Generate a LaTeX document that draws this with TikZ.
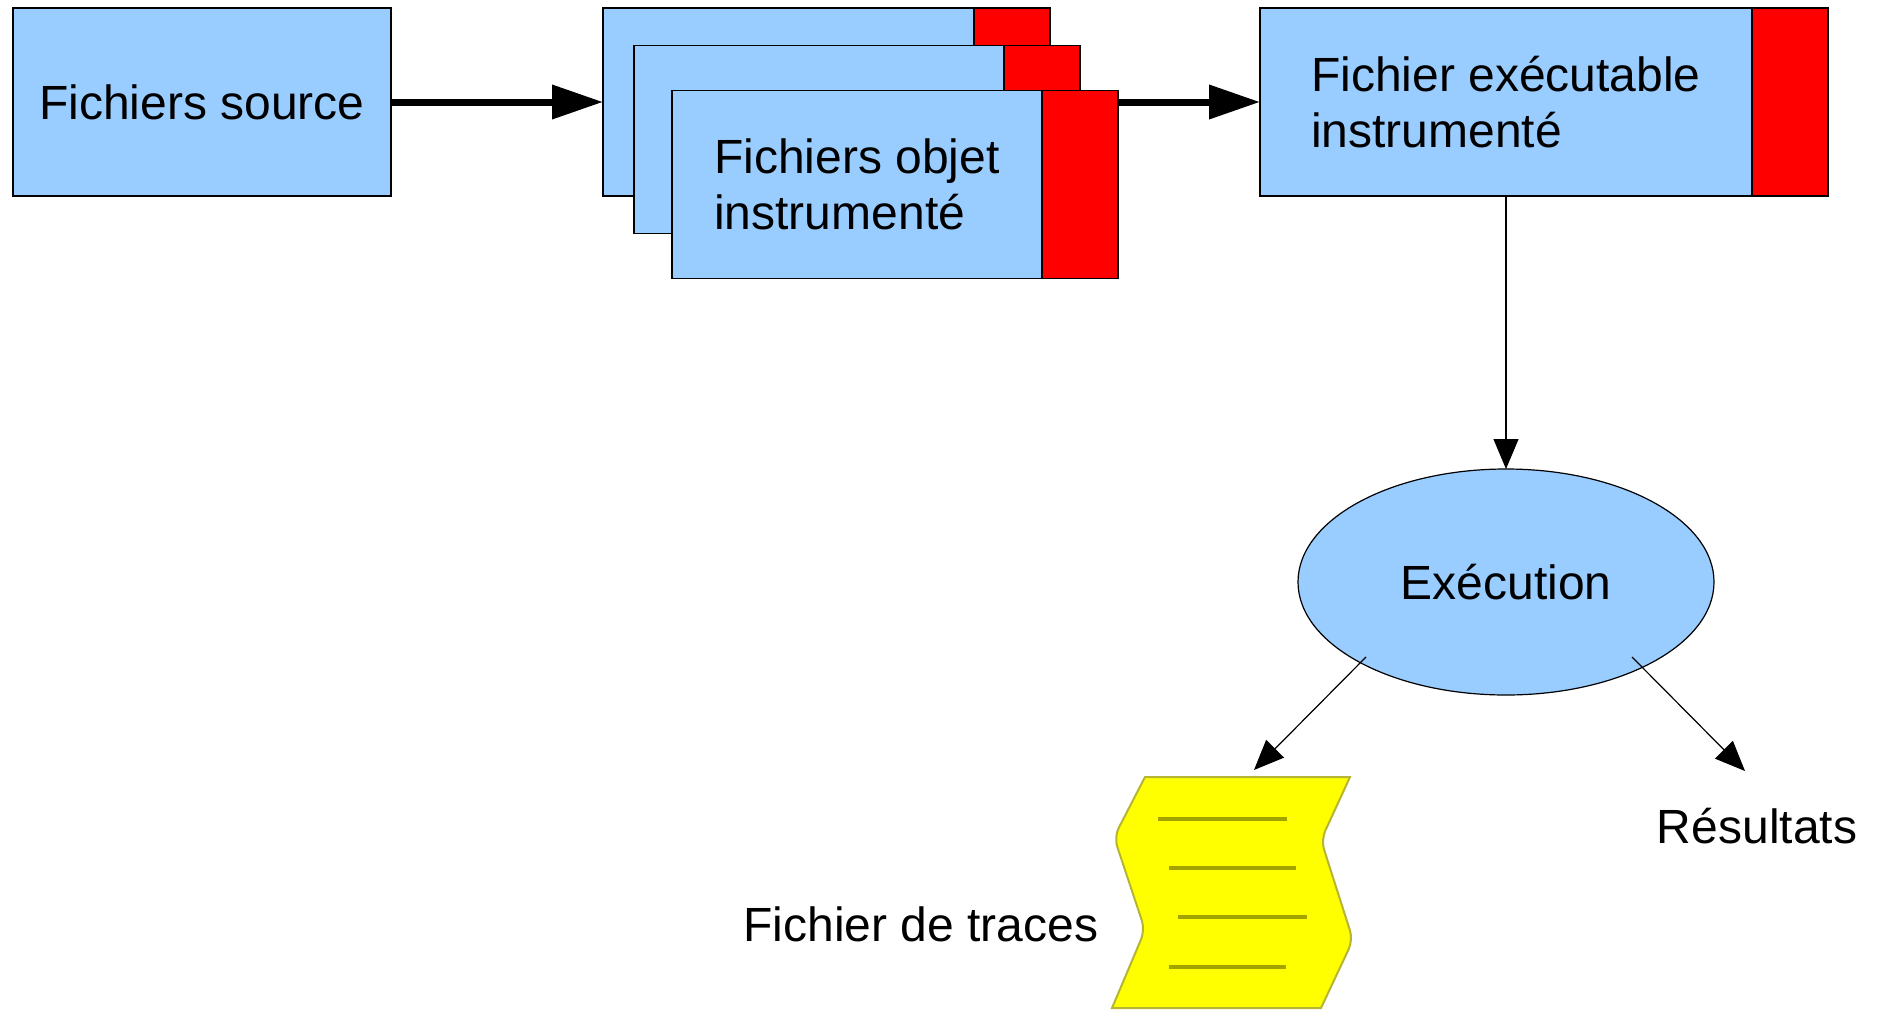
\documentclass[tikz,border=0pt]{standalone}
\usepackage{fontspec}
\setmainfont{Liberation Sans}
\usetikzlibrary{positioning,shapes.geometric,arrows.meta}
\definecolor{boxblue}{HTML}{99CCFF}
\definecolor{traceyellow}{HTML}{FFFF00}
\definecolor{traceolive}{HTML}{A3A300}

\begin{document}
\begin{tikzpicture}[x=1pt,y=-1pt,
        every node/.style={font=\fontsize{48}{56}\selectfont, inner sep=0pt, outer sep=0pt},
        file/.style={draw=black, line width=1.2pt, fill=boxblue, minimum height=188pt, align=left},
        tag/.style={draw=black, line width=1.2pt, fill=red, minimum width=76pt, minimum height=188pt},
        bigarrow/.style={line width=7pt, -{Triangle[length=51pt,width=33pt]}},
        thinarrow/.style={line width=1.2pt, -{Triangle[length=30pt,width=25pt]}}
    ]
    \useasboundingbox (0,0) rectangle (1877,1010);
    \node[file, minimum width=378pt] (src) at (202,102) {Fichiers source};
    \node[file, minimum width=371pt] (obj1) at (788.5,102) {};
    \node[tag, right=0pt of obj1] (obj1r) {};
    \draw[bigarrow] (src) -- (obj1);
    \node[file, minimum width=370pt] (obj2) at (819,139.5) {};
    \node[tag, right=0pt of obj2] (obj2r) {};
    \node[file, minimum width=370pt] (obj3) at (857,184.5) {Fichiers objet\\instrumenté};
    \node[tag, right=0pt of obj3] (obj3r) {};
    \node[file, minimum width=492pt] (exec) at (1506,102) {Fichier exécutable\\instrumenté};
    \node[tag, right=0pt of exec] (execr) {};
    \draw[bigarrow] (obj3r.east |- exec.west) -- (exec.west);
    \node[draw=black, line width=1.2pt, fill=boxblue, ellipse, minimum width=416pt, minimum height=226pt] (run) at (1506,582) {Exécution};
    \draw[thinarrow] (exec) -- (run);
    \draw[traceolive!80, line width=2pt, fill=traceyellow]
        (1145,777) -- (1350,777) [rounded corners=10pt] -- (1321,840) -- (1353,940) [sharp corners] -- (1321,1008)
        -- (1112,1008) [rounded corners=10pt] -- (1145,930) -- (1114,837) [sharp corners] -- cycle;
    \foreach \y/\a/\b in {819/1158/1287, 868/1169/1296, 917/1178/1307, 967/1169/1286}
        \draw[traceolive, line width=3.5pt] (\a,\y) -- (\b,\y);
    \node[anchor=base] (tracelbl) at (921,941) {Fichier de traces};
    \node[anchor=base] (reslbl) at (1757,843) {Résultats};
    \coordinate (runL) at (1366,657);
    \coordinate (runR) at (1632,657);
    \coordinate (tracetop) at (1254,770);
    \coordinate (restop) at (1745,771);
    \draw[thinarrow] (runL) -- (tracetop);
    \draw[thinarrow] (runR) -- (restop);
\end{tikzpicture}
\end{document}
